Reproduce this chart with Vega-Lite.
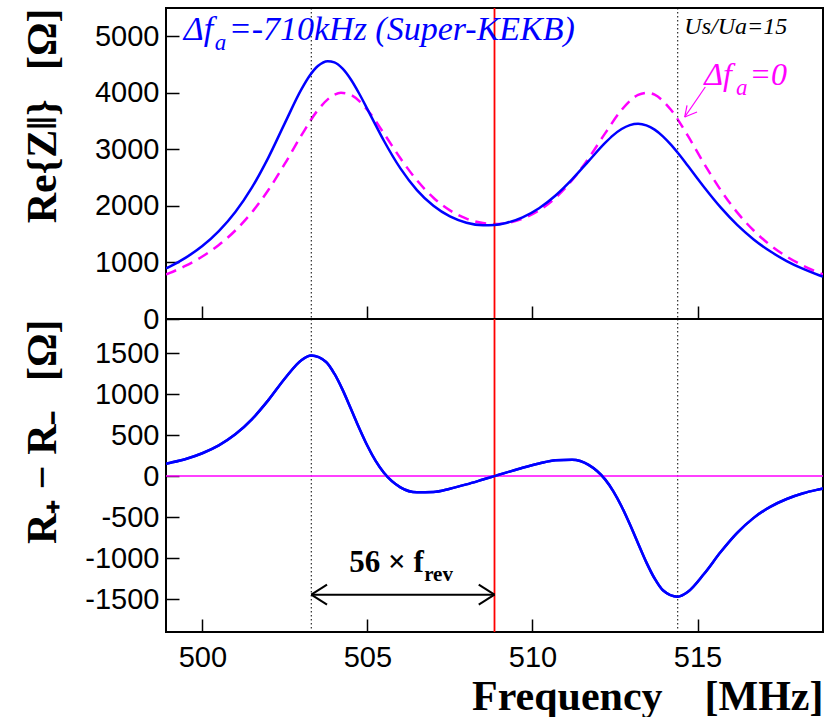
{
  "$schema": "https://vega.github.io/schema/vega-lite/v6.json",
  "background": "white",
  "padding": {"left": 20, "top": 6, "right": 0, "bottom": 0},
  "spacing": 0,
  "bounds": "flush",
  "config": {
    "view": {"stroke": "black", "strokeWidth": 2},
    "axis": {
      "grid": false,
      "domain": false,
      "labelFont": "Liberation Sans",
      "labelFontSize": 29,
      "labelColor": "black",
      "labelFlush": false,
      "tickColor": "black",
      "tickSize": -13,
      "tickWidth": 1.5,
      "titleFont": "Liberation Serif",
      "titleFontWeight": "bold",
      "titleFontSize": 42,
      "titleColor": "black"
    }
  },
  "datasets": {
    "one": [{}],
    "markers": [{"f": 503.3}, {"f": 514.4}],
    "detuned": [
      {"f": 498.9, "z": 894}, {"f": 499.0, "z": 922}, {"f": 499.5, "z": 1085}, {"f": 500.0, "z": 1290},
      {"f": 500.5, "z": 1554}, {"f": 501.0, "z": 1892}, {"f": 501.5, "z": 2323}, {"f": 502.0, "z": 2855},
      {"f": 502.5, "z": 3464}, {"f": 503.0, "z": 4060}, {"f": 503.25, "z": 4302}, {"f": 503.5, "z": 4474},
      {"f": 503.8, "z": 4560}, {"f": 504.0, "z": 4538}, {"f": 504.25, "z": 4426}, {"f": 504.5, "z": 4235},
      {"f": 504.75, "z": 3988}, {"f": 505.0, "z": 3712}, {"f": 505.25, "z": 3428}, {"f": 505.5, "z": 3152},
      {"f": 506.0, "z": 2663}, {"f": 506.5, "z": 2280}, {"f": 507.0, "z": 2002}, {"f": 507.5, "z": 1814},
      {"f": 508.0, "z": 1703}, {"f": 508.5, "z": 1659}, {"f": 508.85, "z": 1664}, {"f": 509.2, "z": 1699},
      {"f": 509.7, "z": 1799}, {"f": 510.2, "z": 1960}, {"f": 510.7, "z": 2185}, {"f": 511.2, "z": 2469},
      {"f": 511.7, "z": 2793}, {"f": 512.2, "z": 3114}, {"f": 512.45, "z": 3252}, {"f": 512.7, "z": 3360},
      {"f": 512.95, "z": 3429}, {"f": 513.2, "z": 3453}, {"f": 513.45, "z": 3425}, {"f": 513.7, "z": 3349},
      {"f": 513.95, "z": 3231}, {"f": 514.2, "z": 3079}, {"f": 514.45, "z": 2904}, {"f": 514.7, "z": 2714},
      {"f": 515.2, "z": 2330}, {"f": 515.7, "z": 1973}, {"f": 516.2, "z": 1664}, {"f": 516.7, "z": 1407},
      {"f": 517.2, "z": 1197}, {"f": 517.7, "z": 1025}, {"f": 518.2, "z": 885}, {"f": 518.7, "z": 770},
      {"f": 518.8, "z": 750}
    ],
    "tuned": [
      {"f": 498.9, "z": 789}, {"f": 499.0, "z": 812}, {"f": 499.5, "z": 942}, {"f": 500.0, "z": 1105},
      {"f": 500.5, "z": 1308}, {"f": 501.0, "z": 1565}, {"f": 501.5, "z": 1886}, {"f": 502.0, "z": 2281},
      {"f": 502.5, "z": 2746}, {"f": 503.0, "z": 3246}, {"f": 503.5, "z": 3695}, {"f": 504.0, "z": 3966},
      {"f": 504.2, "z": 4000}, {"f": 504.5, "z": 3962}, {"f": 505.0, "z": 3697}, {"f": 505.5, "z": 3283},
      {"f": 506.0, "z": 2842}, {"f": 506.5, "z": 2453}, {"f": 507.0, "z": 2145}, {"f": 507.5, "z": 1921},
      {"f": 508.0, "z": 1774}, {"f": 508.5, "z": 1696}, {"f": 508.85, "z": 1680}, {"f": 509.2, "z": 1696},
      {"f": 509.7, "z": 1774}, {"f": 510.2, "z": 1921}, {"f": 510.7, "z": 2145}, {"f": 511.2, "z": 2453},
      {"f": 511.7, "z": 2842}, {"f": 512.2, "z": 3283}, {"f": 512.7, "z": 3697}, {"f": 513.2, "z": 3962},
      {"f": 513.5, "z": 4000}, {"f": 513.7, "z": 3966}, {"f": 514.2, "z": 3695}, {"f": 514.7, "z": 3246},
      {"f": 515.2, "z": 2746}, {"f": 515.7, "z": 2281}, {"f": 516.2, "z": 1886}, {"f": 516.7, "z": 1565},
      {"f": 517.2, "z": 1308}, {"f": 517.7, "z": 1105}, {"f": 518.2, "z": 942}, {"f": 518.7, "z": 812},
      {"f": 518.8, "z": 789}
    ],
    "dR": [
      {"f": 498.9, "r": 151}, {"f": 499.0, "r": 160}, {"f": 499.5, "r": 209}, {"f": 500.0, "r": 279},
      {"f": 500.5, "r": 375}, {"f": 501.0, "r": 509}, {"f": 501.5, "r": 692}, {"f": 502.0, "r": 926},
      {"f": 502.5, "r": 1190}, {"f": 503.0, "r": 1413}, {"f": 503.3, "r": 1470}, {"f": 503.75, "r": 1391},
      {"f": 504.0, "r": 1248}, {"f": 504.25, "r": 1051}, {"f": 504.5, "r": 821},
      {"f": 504.75, "r": 587}, {"f": 505.0, "r": 370}, {"f": 505.25, "r": 185}, {"f": 505.5, "r": 40},
      {"f": 506.0, "r": -137}, {"f": 506.5, "r": -198}, {"f": 507.0, "r": -193}, {"f": 507.5, "r": -153},
      {"f": 508.0, "r": -101}, {"f": 508.5, "r": -42}, {"f": 508.85, "r": 0}, {"f": 509.2, "r": 42},
      {"f": 509.7, "r": 101}, {"f": 510.2, "r": 153}, {"f": 510.7, "r": 193}, {"f": 511.2, "r": 198},
      {"f": 511.7, "r": 137}, {"f": 512.2, "r": -40}, {"f": 512.45, "r": -185}, {"f": 512.7, "r": -370},
      {"f": 512.95, "r": -587}, {"f": 513.2, "r": -821}, {"f": 513.45, "r": -1051}, {"f": 513.7, "r": -1248},
      {"f": 513.95, "r": -1391}, {"f": 514.4, "r": -1470}, {"f": 514.7, "r": -1413},
      {"f": 515.2, "r": -1190}, {"f": 515.7, "r": -926}, {"f": 516.2, "r": -692}, {"f": 516.7, "r": -509},
      {"f": 517.2, "r": -375}, {"f": 517.7, "r": -279}, {"f": 518.2, "r": -209}, {"f": 518.7, "r": -160},
      {"f": 518.8, "r": -151}
    ]
  },
  "vconcat": [
    {
      "width": 657,
      "height": 311,
      "layer": [
        {
          "data": {"name": "tuned"},
          "mark": {"type": "line", "color": "#ff00ff", "strokeWidth": 2.5, "strokeDash": [11, 7], "interpolate": "monotone", "clip": true},
          "encoding": {
            "x": {
              "field": "f", "type": "quantitative",
              "scale": {"domain": [498.9, 518.8], "nice": false, "zero": false},
              "axis": {"values": [500, 505, 510, 515], "labels": false, "title": null}
            },
            "y": {
              "field": "z", "type": "quantitative",
              "scale": {"domain": [0, 5500], "nice": false},
              "axis": {
                "values": [0, 1000, 2000, 3000, 4000, 5000], "format": "d",
                "labelPadding": 20, "minExtent": 80, "maxExtent": 80,
                "title": "Re{Z‖}\u2002\u2009[Ω]", "titleAnchor": "end", "titlePadding": 22
              }
            }
          }
        },
        {
          "data": {"name": "markers"},
          "mark": {"type": "rule", "color": "black", "strokeWidth": 1, "strokeDash": [1.5, 2.5]},
          "encoding": {"x": {"field": "f", "type": "quantitative"}}
        },
        {
          "data": {"name": "one"},
          "mark": {"type": "rule", "color": "#ff0000", "strokeWidth": 1.8},
          "encoding": {"x": {"datum": 508.85}}
        },
        {
          "data": {"name": "detuned"},
          "mark": {"type": "line", "color": "#0000ff", "strokeWidth": 2.5, "interpolate": "monotone", "clip": true},
          "encoding": {
            "x": {"field": "f", "type": "quantitative"},
            "y": {"field": "z", "type": "quantitative"}
          }
        },
        {
          "data": {"name": "one"},
          "mark": {"type": "text", "text": "Δf", "font": "Liberation Serif", "fontStyle": "italic", "fontSize": 34, "color": "#0000ff", "align": "left", "baseline": "alphabetic"},
          "encoding": {"x": {"datum": 499.44}, "y": {"datum": 4929}}
        },
        {
          "data": {"name": "one"},
          "mark": {"type": "text", "text": "a", "font": "Liberation Serif", "fontStyle": "italic", "fontSize": 23, "color": "#0000ff", "align": "left", "baseline": "alphabetic"},
          "encoding": {"x": {"datum": 500.38}, "y": {"datum": 4752}}
        },
        {
          "data": {"name": "one"},
          "mark": {"type": "text", "text": "=-710kHz (Super-KEKB)", "font": "Liberation Serif", "fontStyle": "italic", "fontSize": 34, "color": "#0000ff", "align": "left", "baseline": "alphabetic"},
          "encoding": {"x": {"datum": 500.8}, "y": {"datum": 4929}}
        },
        {
          "data": {"name": "one"},
          "mark": {"type": "text", "text": "Us/Ua=15", "font": "Liberation Serif", "fontStyle": "italic", "fontSize": 24, "color": "black", "align": "left", "baseline": "alphabetic"},
          "encoding": {"x": {"datum": 514.6}, "y": {"datum": 5046}}
        },
        {
          "data": {"name": "one"},
          "mark": {"type": "text", "text": "Δf", "font": "Liberation Serif", "fontStyle": "italic", "fontSize": 32, "color": "#ff00ff", "align": "left", "baseline": "alphabetic"},
          "encoding": {"x": {"datum": 515.2}, "y": {"datum": 4133}}
        },
        {
          "data": {"name": "one"},
          "mark": {"type": "text", "text": "a", "font": "Liberation Serif", "fontStyle": "italic", "fontSize": 23, "color": "#ff00ff", "align": "left", "baseline": "alphabetic"},
          "encoding": {"x": {"datum": 516.165}, "y": {"datum": 3956}}
        },
        {
          "data": {"name": "one"},
          "mark": {"type": "text", "text": "=0", "font": "Liberation Serif", "fontStyle": "italic", "fontSize": 32, "color": "#ff00ff", "align": "left", "baseline": "alphabetic"},
          "encoding": {"x": {"datum": 516.57}, "y": {"datum": 4133}}
        },
        {
          "data": {"name": "one"},
          "mark": {"type": "rule", "color": "#ff00ff", "strokeWidth": 1.2},
          "encoding": {"x": {"datum": 515.235}, "y": {"datum": 4103}, "x2": {"datum": 514.611}, "y2": {"datum": 3572}}
        },
        {
          "data": {"name": "one"},
          "mark": {"type": "rule", "color": "#ff00ff", "strokeWidth": 1.2},
          "encoding": {"x": {"datum": 514.611}, "y": {"datum": 3572}, "x2": {"datum": 514.681}, "y2": {"datum": 3779}}
        },
        {
          "data": {"name": "one"},
          "mark": {"type": "rule", "color": "#ff00ff", "strokeWidth": 1.2},
          "encoding": {"x": {"datum": 514.611}, "y": {"datum": 3572}, "x2": {"datum": 514.984}, "y2": {"datum": 3661}}
        }
      ]
    },
    {
      "width": 657,
      "height": 313,
      "layer": [
        {
          "data": {"name": "dR"},
          "mark": {"type": "line", "color": "#0000ff", "strokeWidth": 2.5, "interpolate": "monotone", "clip": true},
          "encoding": {
            "x": {
              "field": "f", "type": "quantitative",
              "scale": {"domain": [498.9, 518.8], "nice": false, "zero": false},
              "axis": {
                "values": [500, 505, 510, 515], "labelPadding": 24,
                "title": "Frequency\u2003[MHz]", "titleAnchor": "end", "titlePadding": 4
              }
            },
            "y": {
              "field": "r", "type": "quantitative",
              "scale": {"domain": [-1900, 1915], "nice": false, "zero": false},
              "axis": {
                "values": [-1500, -1000, -500, 0, 500, 1000, 1500], "format": "d",
                "labelExpr": "replace(datum.label, '\u2212', '-')",
                "labelPadding": 20, "minExtent": 80, "maxExtent": 80,
                "title": "R₊ − R₋\u2002\u2009[Ω]", "titleAnchor": "end", "titlePadding": 22
              }
            }
          }
        },
        {
          "data": {"name": "markers"},
          "mark": {"type": "rule", "color": "black", "strokeWidth": 1, "strokeDash": [1.5, 2.5]},
          "encoding": {"x": {"field": "f", "type": "quantitative"}}
        },
        {
          "data": {"name": "one"},
          "mark": {"type": "rule", "color": "#ff00ff", "strokeWidth": 1.5},
          "encoding": {"y": {"datum": 0}}
        },
        {
          "data": {"name": "one"},
          "mark": {"type": "rule", "color": "#ff0000", "strokeWidth": 1.8},
          "encoding": {"x": {"datum": 508.85}}
        },
        {
          "data": {"name": "dR"},
          "mark": {"type": "line", "color": "#0000ff", "strokeWidth": 2.5, "interpolate": "monotone", "clip": true},
          "encoding": {
            "x": {"field": "f", "type": "quantitative"},
            "y": {"field": "r", "type": "quantitative"}
          }
        },
        {
          "data": {"name": "one"},
          "mark": {"type": "text", "text": "56 × f", "font": "Liberation Serif", "fontWeight": "bold", "fontSize": 31, "color": "black", "align": "left", "baseline": "alphabetic"},
          "encoding": {"x": {"datum": 504.45}, "y": {"datum": -1169}}
        },
        {
          "data": {"name": "one"},
          "mark": {"type": "text", "text": "rev", "font": "Liberation Serif", "fontWeight": "bold", "fontSize": 21, "color": "black", "align": "left", "baseline": "alphabetic"},
          "encoding": {"x": {"datum": 506.72}, "y": {"datum": -1278}}
        },
        {
          "data": {"name": "one"},
          "mark": {"type": "rule", "color": "black", "strokeWidth": 2},
          "encoding": {"x": {"datum": 503.3}, "y": {"datum": -1445}, "x2": {"datum": 508.85}, "y2": {"datum": -1445}}
        },
        {
          "data": {"name": "one"},
          "mark": {"type": "rule", "color": "black", "strokeWidth": 2},
          "encoding": {"x": {"datum": 503.3}, "y": {"datum": -1445}, "x2": {"datum": 503.777}, "y2": {"datum": -1323}}
        },
        {
          "data": {"name": "one"},
          "mark": {"type": "rule", "color": "black", "strokeWidth": 2},
          "encoding": {"x": {"datum": 503.3}, "y": {"datum": -1445}, "x2": {"datum": 503.777}, "y2": {"datum": -1567}}
        },
        {
          "data": {"name": "one"},
          "mark": {"type": "rule", "color": "black", "strokeWidth": 2},
          "encoding": {"x": {"datum": 508.85}, "y": {"datum": -1445}, "x2": {"datum": 508.373}, "y2": {"datum": -1323}}
        },
        {
          "data": {"name": "one"},
          "mark": {"type": "rule", "color": "black", "strokeWidth": 2},
          "encoding": {"x": {"datum": 508.85}, "y": {"datum": -1445}, "x2": {"datum": 508.373}, "y2": {"datum": -1567}}
        }
      ]
    }
  ]
}
